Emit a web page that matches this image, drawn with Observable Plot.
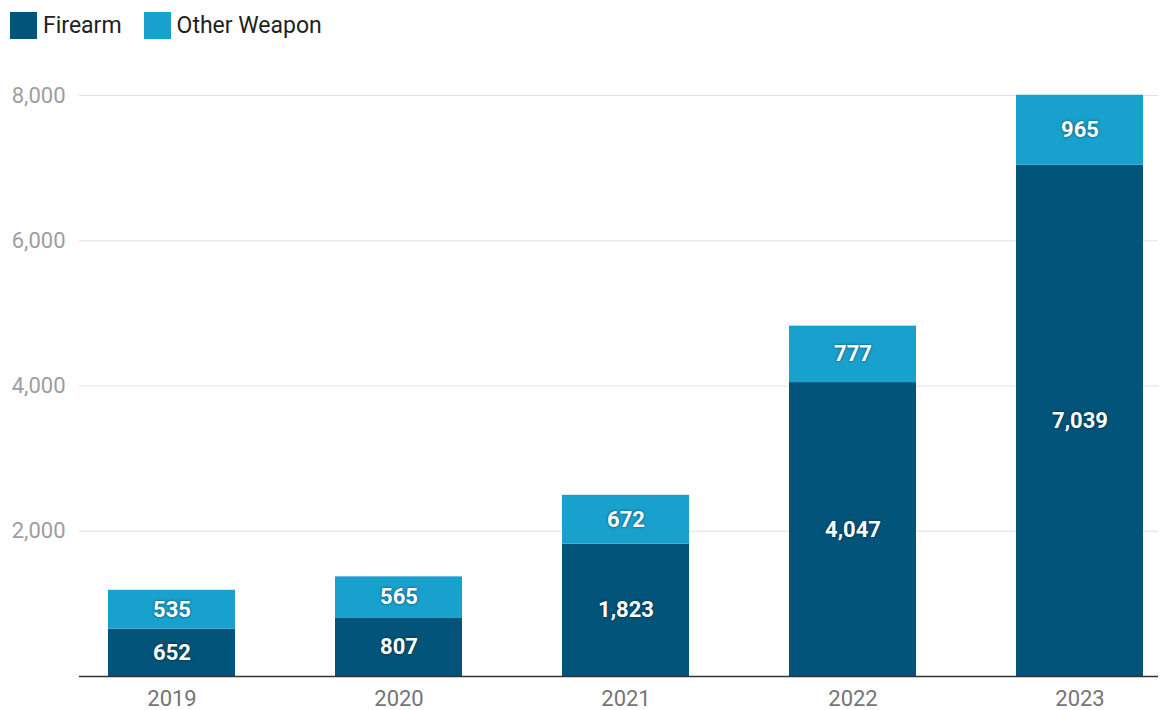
<!DOCTYPE html>
<html>
<head>
<meta charset="utf-8">
<script src="https://cdn.jsdelivr.net/npm/d3@7"></script>
<script src="https://cdn.jsdelivr.net/npm/@observablehq/plot@0.6"></script>
<style>
  html, body { margin: 0; padding: 0; background: #fff; }
  body { width: 1162px; height: 710px; overflow: hidden; font-family: Roboto, "Noto Sans", sans-serif; }
  #legend { height: 44px; display: flex; align-items: flex-start; padding-left: 10px; padding-top: 12px; box-sizing: border-box; }
  .item { display: flex; align-items: center; margin-right: 22px; font-size: 23px; line-height: 27px; color: #222; }
  .sw { width: 27px; height: 27px; margin-right: 6px; }
  .vlabel text { text-shadow: 0 0 3px rgba(0,0,0,0.55); }
  #chart svg { display: block; }
</style>
</head>
<body>
<div id="legend"></div>
<div id="chart"></div>
<script>
const years = ["2019", "2020", "2021", "2022", "2023"];
const firearm = [652, 807, 1823, 4047, 7039];
const otherWeapon = [535, 565, 672, 777, 965];
const seriesNames = ["Firearm", "Other Weapon"];
const seriesColors = ["#02547a", "#19a1cd"];
const yTicks = [2000, 4000, 6000, 8000];

const data = [];
years.forEach((yr, i) => {
  data.push({year: yr, type: seriesNames[0], value: firearm[i]});
  data.push({year: yr, type: seriesNames[1], value: otherWeapon[i]});
});

const legend = document.getElementById("legend");
seriesNames.forEach((n, i) => {
  const it = document.createElement("div");
  it.className = "item";
  it.innerHTML = `<div class="sw" style="background:${seriesColors[i]}"></div><span>${n}</span>`;
  legend.appendChild(it);
});

const fmt = d3.format(",");
const chart = Plot.plot({
  width: 1162,
  height: 666,
  marginLeft: 79,
  marginRight: 4,
  marginTop: 51,
  marginBottom: 34,
  style: {fontFamily: "Roboto, sans-serif", fontSize: "22px", background: "#fff"},
  x: {type: "band", domain: years, range: [106, 1145], paddingInner: 0.44, paddingOuter: 0, label: null},
  y: {domain: [0, 8000], label: null},
  color: {domain: seriesNames, range: seriesColors},
  marks: [
    Plot.ruleY(yTicks, {stroke: "#e0e0e0", strokeWidth: 1.2}),
    Plot.barY(data, Plot.stackY({x: "year", y: "value", fill: "type", order: seriesNames})),
    Plot.ruleY([0], {stroke: "#333", strokeWidth: 1.5}),
    Plot.axisY(yTicks, {tickSize: 0, tickPadding: 14, tickFormat: fmt, fill: "#9e9e9e", fontSize: 22, label: null}),
    Plot.axisX({tickSize: 0, tickPadding: 14, fill: "#757575", fontSize: 22, label: null}),
    Plot.text(data, Plot.stackY({x: "year", y: "value", z: "type", order: seriesNames, text: d => fmt(d.value), fill: "white", fontWeight: "bold", fontSize: 22, className: "vlabel"}))
  ]
});
document.getElementById("chart").appendChild(chart);
</script>
</body>
</html>
